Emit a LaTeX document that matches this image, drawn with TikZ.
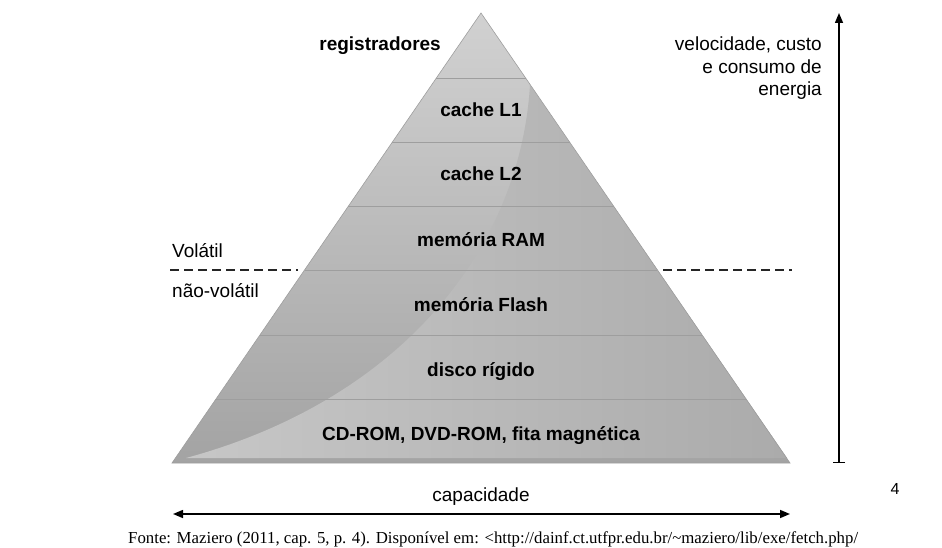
\documentclass[tikz,border=0pt]{standalone}
\usepackage{fontspec}
\setmainfont{Liberation Serif}
\newfontfamily\arialfont{Liberation Sans}
\usetikzlibrary{arrows.meta}
\begin{document}
\begin{tikzpicture}[x=1pt,y=-1pt,inner sep=0pt,
                nivel/.style={font=\arialfont\bfseries\fontsize{19}{22}\selectfont,anchor=base},
                rotulo/.style={font=\arialfont\fontsize{19}{22.5}\selectfont},
                faixa/.style={draw=black!38,line width=0.6pt},
                tracejado/.style={dash pattern=on 9pt off 5pt,line width=1.6pt,black!85},
                seta/.style={line width=1.5pt}]
                \useasboundingbox (0,0) rectangle (942,548);
                \coordinate (topo) at (481,13);
                \coordinate (baseE) at (172,463);
                \coordinate (baseD) at (790,463);
                \shade[top color=black!18,bottom color=black!36] (topo) -- (baseD) -- (baseE) -- cycle;
                \shade[left color=black!22,right color=black!33] (186,458) .. controls (400,400) and (520,250) .. (530,85) -- (787,458) -- cycle;
                \foreach \y in {78,142,206,270,335,399}
                    \draw[faixa] ({481-0.6867*(\y-13)},\y) -- ({481+0.6867*(\y-13)},\y);
                \draw[faixa] (topo) -- (baseD) -- (baseE) -- cycle;
                \node[nivel,anchor=base east] (reg) at (441,51) {registradores};
                \node[nivel] (l1) at (481,117) {cache L1};
                \node[nivel] (l2) at (481,181) {cache L2};
                \node[nivel] (ram) at (481,247) {memória RAM};
                \node[nivel] (flash) at (481,311) {memória Flash};
                \node[nivel] (disco) at (481,376) {disco rígido};
                \node[nivel] (cd) at (481,440) {CD-ROM, DVD-ROM, fita magnética};
                \node[rotulo,anchor=base west] (vol) at (172,257) {Volátil};
                \node[rotulo,anchor=base west] (naovol) at (172,297) {não-volátil};
                \coordinate (tracoE1) at (170,270);
                \coordinate (tracoE2) at (298,270);
                \coordinate (tracoD1) at (663,270);
                \coordinate (tracoD2) at (792,270);
                \draw[tracejado] (tracoE1) -- (tracoE2);
                \draw[tracejado] (tracoD1) -- (tracoD2);
                \node[rotulo,anchor=base east,align=right] (vel) at (822,96) {velocidade, custo\\e consumo de\\energia};
                \coordinate (velBase) at (839,463);
                \coordinate (velTopo) at (839,13);
                \draw[seta,{Bar[width=12pt]}-{Triangle[length=10pt,width=8pt]}] (velBase) -- (velTopo);
                \coordinate (capE) at (173,514);
                \coordinate (capD) at (790,514);
                \draw[seta,{Triangle[length=10pt,width=8pt]}-{Triangle[length=10pt,width=8pt]}] (capE) -- (capD);
                \node[rotulo,anchor=base] (cap) at (481,501) {capacidade};
                \node[rotulo,anchor=base,font=\arialfont\fontsize{16}{18}\selectfont] (pag) at (895,494) {4};
                \node[anchor=base west,font=\fontsize{16.8}{19}\selectfont] (fonte) at (128,543) {Fonte: Maziero (2011, cap. 5, p. 4). Disponível em: <http://dainf.ct.utfpr.edu.br/\textasciitilde maziero/lib/exe/fetch.php/};
            \end{tikzpicture}
\end{document}
